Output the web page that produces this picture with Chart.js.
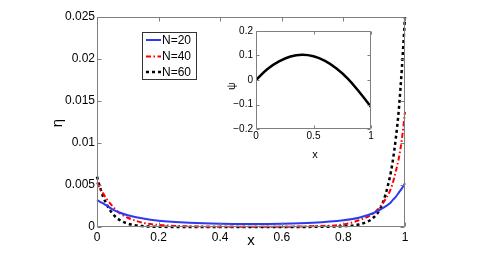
<!DOCTYPE html>
<html><head><meta charset="utf-8">
<script src="https://cdn.jsdelivr.net/npm/chart.js@4"></script>
<style>
html,body{margin:0;padding:0;background:#fff;overflow:hidden}
#wrap{position:relative;width:498px;height:255px}
#main{position:absolute;left:0;top:0;width:498px;height:255px}
#inset{position:absolute;left:205px;top:22px;width:175px;height:140px}
</style></head><body>
<div id="wrap"><canvas id="main" width="498" height="255"></canvas><canvas id="inset" width="175" height="140"></canvas></div>
<script>
// ---- data ----
const xValues = [0,0.01,0.02,0.03,0.05,0.075,0.1,0.15,0.2,0.3,0.4,0.5,0.6,0.7,0.8,0.85,0.9,0.925,0.95,0.96,0.97,0.98,0.99,1];
const n20 = [0.0032,0.0030,0.0028,0.0026,0.0021,0.0017,0.0014,0.0010,0.00075,0.0005,0.00038,0.00035,0.00038,0.0005,0.0008,0.0011,0.0017,0.0022,0.0028,0.0032,0.0036,0.0041,0.0046,0.0052];
const n40 = [0.0053,0.0046,0.0040,0.0034,0.0025,0.0016,0.0011,0.0005,0.00025,0.00008,0.00003,0.00002,0.00003,0.0001,0.0003,0.0008,0.0017,0.0027,0.0042,0.0052,0.0066,0.0082,0.0105,0.0137];
const n60 = [0.0060,0.0047,0.0036,0.0028,0.0016,0.0008,0.0004,0.0001,0.00003,0,0,0,0,0.00002,0.0001,0.0003,0.0012,0.0026,0.0058,0.0078,0.0105,0.0140,0.0190,0.0250];
const seriesLabels = ['N=20','N=40','N=60'];
const xTicks = [0,0.2,0.4,0.6,0.8,1];
const yTicks = [0,0.005,0.01,0.015,0.02,0.025];
const psiX = [0,0.1,0.2,0.3,0.4,0.5,0.6,0.7,0.8,0.9,1];
const psiY = [0,0.045,0.076,0.096,0.103,0.097,0.078,0.047,0.005,-0.05,-0.11];
const insetXTicks = [0,0.5,1];
const insetYTicks = [-0.2,-0.1,0,0.1,0.2];

const FONT = '"Liberation Sans", Arial, Helvetica, sans-serif';
const AXIS_COLOR = '#7f7f7f';

function pts(xs, ys){ return xs.map((x,i)=>({x:x, y:ys[i]})); }

function boxPlugin(tickLen){
  return {
    id:'box',
    afterDatasetsDraw(chart){
      const {ctx, chartArea:a, scales} = chart;
      ctx.save();
      ctx.strokeStyle = AXIS_COLOR; ctx.lineWidth = 1;
      ctx.beginPath();
      const L=Math.round(a.left)+0.5, R=Math.round(a.right)-0.5, T=Math.round(a.top)+0.5, B=Math.round(a.bottom)-0.5;
      ctx.rect(L,T,R-L,B-T);
      scales.x.ticks.forEach(t=>{
        const p=Math.round(scales.x.getPixelForValue(t.value))+0.5;
        ctx.moveTo(p,B); ctx.lineTo(p,B-tickLen);
        ctx.moveTo(p,T); ctx.lineTo(p,T+tickLen);
      });
      scales.y.ticks.forEach(t=>{
        const p=Math.round(scales.y.getPixelForValue(t.value))+0.5;
        ctx.moveTo(L,p); ctx.lineTo(L+tickLen,p);
        ctx.moveTo(R,p); ctx.lineTo(R-tickLen,p);
      });
      ctx.stroke();
      ctx.restore();
    }
  };
}

function titlesPlugin(items){
  return {
    id:'titles',
    afterDraw(chart){
      const ctx = chart.ctx;
      items.forEach(it=>{
        ctx.save();
        ctx.fillStyle='#000';
        ctx.font = it.font;
        ctx.textAlign='center'; ctx.textBaseline='middle';
        ctx.translate(it.x, it.y);
        if (it.rot) ctx.rotate(it.rot);
        ctx.fillText(it.text, 0, 0);
        ctx.restore();
      });
    }
  };
}

const legendPlugin = {
  id:'customLegend',
  afterDraw(chart){
    const ctx = chart.ctx;
    const bx=142.5, by=32.5, bw=54, bh=47;
    ctx.save();
    ctx.fillStyle='#fff'; ctx.fillRect(bx,by,bw,bh);
    ctx.strokeStyle='#333'; ctx.lineWidth=1; ctx.strokeRect(bx,by,bw,bh);
    const rows=[40,56.5,72];
    chart.data.datasets.forEach((ds,i)=>{
      ctx.beginPath();
      ctx.strokeStyle=ds.borderColor; ctx.lineWidth=ds.borderWidth;
      ctx.setLineDash(ds.borderDash||[]);
      ctx.moveTo(146,rows[i]); ctx.lineTo(161,rows[i]); ctx.stroke();
      ctx.setLineDash([]);
      ctx.fillStyle='#000'; ctx.font='12px '+FONT;
      ctx.textAlign='left'; ctx.textBaseline='middle';
      ctx.fillText(ds.label,162,rows[i]+0.5);
    });
    ctx.restore();
  }
};

new Chart(document.getElementById('main'), {
  type:'line',
  data:{
    datasets:[
      {label:seriesLabels[0], data:pts(xValues,n20), borderColor:'#2b3cf0', borderWidth:2, pointRadius:0, fill:false, cubicInterpolationMode:'monotone', clip:4},
      {label:seriesLabels[1], data:pts(xValues,n40), borderColor:'#ff0000', borderWidth:2, borderDash:[5,2.5,1.5,2.5], pointRadius:0, fill:false, cubicInterpolationMode:'monotone', clip:4},
      {label:seriesLabels[2], data:pts(xValues,n60), borderColor:'#000000', borderWidth:2.5, borderDash:[3,3], pointRadius:0, fill:false, cubicInterpolationMode:'monotone', clip:4}
    ]
  },
  options:{
    responsive:false, animation:false, devicePixelRatio:1,
    layout:{padding:{left:0,right:93,top:17,bottom:0}},
    plugins:{legend:{display:false}, tooltip:{enabled:false}},
    scales:{
      x:{type:'linear', min:0, max:1,
        afterBuildTicks(s){ s.ticks = xTicks.map(v=>({value:v})); },
        afterFit(s){ s.height = 28; },
        grid:{display:false, drawTicks:false}, border:{display:false},
        ticks:{padding:3, color:'#000', font:{family:FONT,size:12}, maxRotation:0, autoSkip:false, callback:v=>String(v)}
      },
      y:{type:'linear', min:0, max:0.025,
        afterBuildTicks(s){ s.ticks = yTicks.map(v=>({value:v})); },
        afterFit(s){ s.width = 97; },
        grid:{display:false, drawTicks:false}, border:{display:false},
        ticks:{padding:2, color:'#000', font:{family:FONT,size:12}, autoSkip:false, callback:v=>String(v)}
      }
    }
  },
  plugins:[boxPlugin(4), legendPlugin, titlesPlugin([
    {text:'x', x:251, y:241, font:'15px '+FONT},
    {text:'η', x:58, y:123, rot:-Math.PI/2, font:'15px '+FONT}
  ])]
});

new Chart(document.getElementById('inset'), {
  type:'line',
  data:{datasets:[{label:'psi', data:pts(psiX,psiY), borderColor:'#000', borderWidth:2.5, pointRadius:0, fill:false, tension:0.4}]},
  options:{
    responsive:false, animation:false, devicePixelRatio:1,
    layout:{padding:{left:0,right:9,top:9,bottom:0}},
    plugins:{legend:{display:false}, tooltip:{enabled:false}},
    scales:{
      x:{type:'linear', min:0, max:1,
        afterBuildTicks(s){ s.ticks = insetXTicks.map(v=>({value:v})); },
        afterFit(s){ s.height = 33; },
        grid:{display:false, drawTicks:false}, border:{display:false},
        ticks:{padding:1, color:'#000', font:{family:FONT,size:10}, maxRotation:0, autoSkip:false, callback:v=>String(v)}
      },
      y:{type:'linear', min:-0.2, max:0.2,
        afterBuildTicks(s){ s.ticks = insetYTicks.map(v=>({value:v})); },
        afterFit(s){ s.width = 51; },
        grid:{display:false, drawTicks:false}, border:{display:false},
        ticks:{padding:3, color:'#000', font:{family:FONT,size:10}, autoSkip:false, callback:v=>(v<0?'\u2212':'')+String(Math.abs(v))}
      }
    }
  },
  plugins:[{id:'bg', beforeDraw(c){const a=c.chartArea; c.ctx.save(); c.ctx.fillStyle='#fff'; c.ctx.fillRect(a.left,a.top,a.right-a.left,a.bottom-a.top); c.ctx.restore();}},
    boxPlugin(3), titlesPlugin([
    {text:'x', x:110, y:133, font:'11px '+FONT},
    {text:'ψ', x:27, y:64, rot:-Math.PI/2, font:'11px '+FONT}
  ])]
});
</script>
</body></html>
